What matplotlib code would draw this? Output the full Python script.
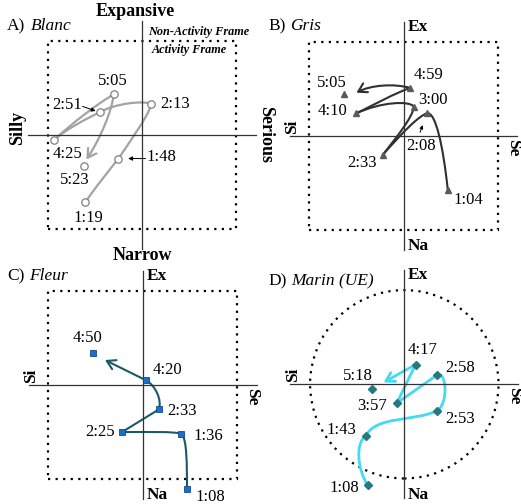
import matplotlib
matplotlib.use('Agg')
import matplotlib.pyplot as plt
from matplotlib.path import Path
from matplotlib.patches import PathPatch, FancyArrowPatch, Rectangle, Circle

plt.rcParams['font.family'] = ['Liberation Serif', 'DejaVu Serif']

# ---- data (frame = +/-1 on both axes) ----
blanc_time = ['1:19', '1:48', '2:13', '2:51', '4:25', '5:05', '5:23']
blanc_x = [-0.60, -0.25, 0.10, -0.45, -0.93, -0.30, -0.62]
blanc_y = [-0.71, -0.25, 0.33, 0.24, -0.05, 0.43, -0.33]
blanc_tip = (-0.59, -0.26)
blanc_bend = [(-0.49, -0.55, -0.36, -0.39), (-0.15, -0.10, 0.07, 0.20),
              (0.00, 0.37, -0.30, 0.33), (-0.60, 0.17, -0.82, 0.05),
              (-0.75, 0.12, -0.45, 0.35), (-0.32, 0.25, -0.45, -0.05)]

gris_time = ['1:04', '2:08', '2:33', '3:00', '4:10', '4:59', '5:05']
gris_x = [0.47, 0.25, -0.22, 0.11, -0.50, 0.07, -0.63]
gris_y = [-0.57, 0.24, -0.20, 0.31, 0.24, 0.51, 0.45]
gris_tip = (-0.50, 0.46)
gris_bend = [(0.42, -0.10, 0.34, 0.26), (0.17, 0.22, 0.00, 0.05),
             (-0.08, -0.02, 0.10, 0.20), (0.07, 0.38, -0.25, 0.36),
             (-0.30, 0.34, -0.10, 0.45), (-0.10, 0.56, -0.35, 0.54)]

fleur_time = ['1:08', '1:36', '2:25', '2:33', '4:20', '4:50']
fleur_x = [0.47, 0.41, -0.22, 0.17, 0.035, -0.53]
fleur_y = [-1.10, -0.52, -0.50, -0.26, 0.05, 0.34]
fleur_tip = (-0.40, 0.265)
fleur_bend = [(0.47, -0.85, 0.47, -0.56), (0.36, -0.49, 0.00, -0.50), None,
              (0.21, -0.16, 0.13, 0.00), None]

marin_time = ['1:08', '1:43', '2:53', '2:58', '3:57', '4:17', '5:18']
marin_x = [-0.39, -0.41, 0.35, 0.35, -0.08, 0.12, -0.34]
marin_y = [-1.07, -0.55, -0.28, 0.10, -0.20, 0.21, -0.05]
marin_tip = (-0.22, 0.02)
marin_bend = [(-0.50, -0.90, -0.52, -0.62), (-0.30, -0.33, 0.10, -0.40),
              (0.47, -0.20, 0.45, 0.14), None, None, None]

# label offsets in pixels (dx, dy)
blanc_off = [(3, -16), (43, 2), (24, 0), (-32, 7), (13, -14), (-1, 13), (-9, -14)]
gris_off = [(21, -10), (-6, -33), (-21, -8), (19, 7), (-24, 2), (18, 13), (-12, 11)]
fleur_off = [(23, -8), (27, -2), (-22, 0), (23, -2), (21, 10), (-5, 15)]
marin_off = [(-23, -3), (-24, 6), (23, -8), (23, 7), (-25, -3), (7, 15), (-14, 13)]

W, H = 521, 504
S = 94.2
fig = plt.figure(figsize=(W / 100, H / 100), dpi=100)


def make_panel(ox, oy, x0, x1, y0, y1):
    ax = fig.add_axes([x0 / W, 1 - y1 / H, (x1 - x0) / W, (y1 - y0) / H])
    ax.set_xlim((x0 - ox) / S, (x1 - ox) / S)
    ax.set_ylim((oy - y1) / S, (oy - y0) / S)
    ax.set_axis_off()
    ax.plot([0, 0], [-1.21, 1.21], color='#333333', lw=0.9)
    ax.plot([-1.21, 1.21], [0, 0], color='#333333', lw=0.9)
    return ax


def draw_track(ax, xs, ys, tip, bends, color, lw):
    pts = list(zip(xs[:-1], ys[:-1])) + [tip]
    for i in range(len(pts) - 1):
        p0, p1 = pts[i], pts[i + 1]
        b = bends[i]
        if b is None:
            path = Path([p0, p1], [Path.MOVETO, Path.LINETO])
        else:
            path = Path([p0, (b[0], b[1]), (b[2], b[3]), p1],
                        [Path.MOVETO, Path.CURVE4, Path.CURVE4, Path.CURVE4])
        if i == len(pts) - 2:
            ax.add_patch(FancyArrowPatch(path=path, arrowstyle='->,head_length=0.5,head_width=0.3',
                                         mutation_scale=12, color=color, lw=lw))
        else:
            ax.add_patch(PathPatch(path, fill=False, edgecolor=color, lw=lw, capstyle='round'))


def label_points(ax, times, xs, ys, offs):
    for t, x, y, o in zip(times, xs, ys, offs):
        ax.annotate(t, (x, y), xytext=o, textcoords='offset pixels',
                    ha='center', va='center', fontsize=12)


def axis_names(ax, top='Ex', bottom='Na', left=True):
    ax.text(0.04, 1.16, top, fontsize=12.5, fontweight='bold', ha='left', va='center')
    ax.text(0.04, -1.17, bottom, fontsize=12.5, fontweight='bold', ha='left', va='center')
    if left:
        ax.text(-1.18, 0.10, 'Si', fontsize=12.5, fontweight='bold', rotation=90,
                ha='center', va='center')
    ax.text(1.16, -0.12, 'Se', fontsize=12.5, fontweight='bold', rotation=-90,
            ha='center', va='center')


dots = (0, (1, 2.4))

# A) Blanc
axA = make_panel(142, 135, 0, 260, 0, 252)
axA.add_patch(Rectangle((-1, -1), 2, 2, fill=False, ls=dots, lw=1.6, color='black'))
draw_track(axA, blanc_x, blanc_y, blanc_tip, blanc_bend, '#a3a3a3', 1.6)
axA.plot(blanc_x, blanc_y, 'o', ls='none', ms=5.3, mfc='white', mec='#808080', mew=0.9)
label_points(axA, blanc_time, blanc_x, blanc_y, blanc_off)
axA.annotate('', (blanc_x[3], blanc_y[3]), xytext=(-17, 6), textcoords='offset pixels',
             arrowprops=dict(arrowstyle='-|>', lw=0.7, color='black', mutation_scale=6,
                             shrinkA=0, shrinkB=3))
axA.annotate('', (blanc_x[1], blanc_y[1]), xytext=(27, 0), textcoords='offset pixels',
             arrowprops=dict(arrowstyle='-|>', lw=0.7, color='black', mutation_scale=6,
                             shrinkA=0, shrinkB=7))

# B) Gris
axB = make_panel(403.5, 136, 260, 521, 0, 252)
axB.add_patch(Rectangle((-1, -1), 2, 2, fill=False, ls=dots, lw=1.6, color='black'))
draw_track(axB, gris_x, gris_y, gris_tip, gris_bend, '#303030', 1.5)
axB.plot(gris_x, gris_y, '^', ls='none', ms=5, color='#5a5a5a')
label_points(axB, gris_time, gris_x, gris_y, gris_off)
axB.annotate('', (gris_x[1], gris_y[1]), xytext=(-7, -19), textcoords='offset pixels',
             arrowprops=dict(arrowstyle='-|>', lw=0.7, color='black', mutation_scale=5,
                             shrinkA=0, shrinkB=9))
axis_names(axB)

# C) Fleur
axC = make_panel(142.7, 385, 0, 260, 252, 504)
axC.add_patch(Rectangle((-1, -1), 2, 2, fill=False, ls=dots, lw=1.6, color='black'))
draw_track(axC, fleur_x, fleur_y, fleur_tip, fleur_bend, '#1b5a63', 1.5)
axC.plot(fleur_x, fleur_y, 's', ls='none', ms=5, mfc='#1c6fc8', mec='#114a8a', mew=0.6)
label_points(axC, fleur_time, fleur_x, fleur_y, fleur_off)
axis_names(axC)

# D) Marin (UE)
axD = make_panel(404.3, 384.3, 260, 521, 252, 504)
axD.add_patch(Circle((0, 0), 1.0, fill=False, ls=dots, lw=1.6, color='black'))
draw_track(axD, marin_x, marin_y, marin_tip, marin_bend, '#45daf2', 2.0)
axD.plot(marin_x, marin_y, 'D', ls='none', ms=3.8, color='#25797f')
label_points(axD, marin_time, marin_x, marin_y, marin_off)
axis_names(axD)

# panel titles and outer labels (figure pixels)
def ftext(x, y, s, **kw):
    fig.text(x / W, 1 - y / H, s, **kw)

ftext(7, 26, 'A)', fontsize=12.5, va='center')
ftext(31, 26, 'Blanc', fontsize=12.5, style='italic', va='center')
ftext(268, 26, 'B)', fontsize=12.5, va='center')
ftext(290, 26, 'Gris', fontsize=12.5, style='italic', va='center')
ftext(7, 276, 'C)', fontsize=12.5, va='center')
ftext(29, 276, 'Fleur', fontsize=12.5, style='italic', va='center')
ftext(268, 281, 'D)', fontsize=12.5, va='center')
ftext(291, 281, 'Marin (UE)', fontsize=12.5, style='italic', va='center')

ftext(135, 12, 'Expansive', fontsize=13, fontweight='bold', ha='center', va='center')
ftext(142.5, 256, 'Narrow', fontsize=13, fontweight='bold', ha='center', va='center')
ftext(18, 128, 'Silly', fontsize=13, fontweight='bold', rotation=90, ha='center', va='center')
ftext(266, 135, 'Serious', fontsize=13, fontweight='bold', rotation=-90, ha='center', va='center')
ftext(199, 32, 'Non-Activity Frame', fontsize=8.8, fontweight='bold', style='italic',
      ha='center', va='center')
ftext(189, 50, 'Activity Frame', fontsize=8.8, fontweight='bold', style='italic',
      ha='center', va='center')

fig.savefig('out.png', dpi=100)
